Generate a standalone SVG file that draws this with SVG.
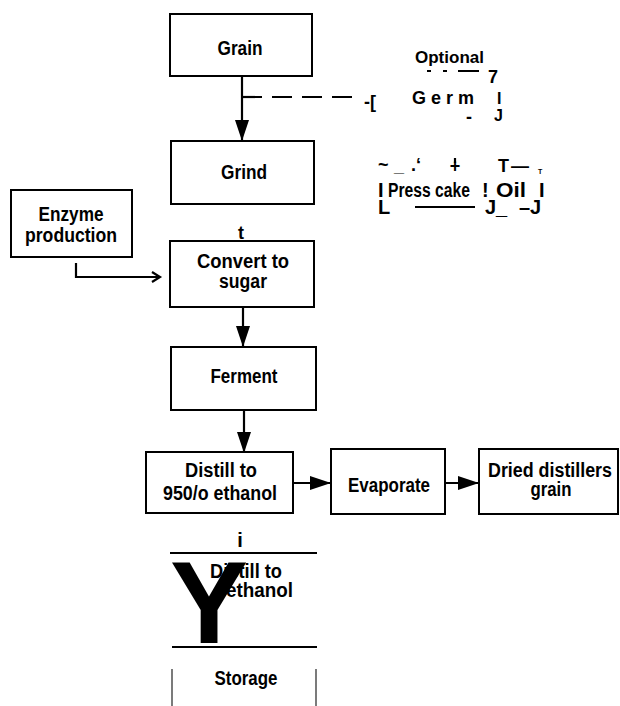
<svg xmlns="http://www.w3.org/2000/svg" width="620" height="706" viewBox="0 0 620 706">
<style>
.box{fill:#fff;stroke:#000;stroke-width:2}
.t{font-family:"Liberation Sans",Arial,sans-serif;font-weight:bold;font-size:18px;fill:#000}
.L{font-size:20px}
.c{text-anchor:middle}
.ln{stroke:#000;stroke-width:2.2;fill:none}
.thin{stroke:#444;stroke-width:1.4;fill:none}
</style>
<defs>
<marker id="ah" markerUnits="userSpaceOnUse" markerWidth="21" markerHeight="14" refX="21" refY="7" orient="auto">
<path d="M0,0 L21,7 L0,14 Z" fill="#000"/>
</marker>
</defs>
<rect width="620" height="706" fill="#fff"/>

<g id="connectors">
<path class="ln" d="M242,76 V141" marker-end="url(#ah)"/>
<path class="ln" d="M242,97 H360" stroke-dasharray="20 10"/>
<path class="ln" d="M76,263 V277 H160" stroke-width="1.8"/>
<path class="ln" d="M152,272 L160,277 L152,282" stroke-width="1.8"/>
<path class="ln" d="M243,307 V347" marker-end="url(#ah)"/>
<path class="ln" d="M244,410 V453" marker-end="url(#ah)"/>
<path class="ln" d="M293,483 H331" marker-end="url(#ah)"/>
<path class="ln" d="M445,483 H479" marker-end="url(#ah)"/>
</g>

<g id="grain">
<rect class="box" x="170" y="14" width="142" height="62"/>
<text class="t L c" x="240" y="55" textLength="45" lengthAdjust="spacingAndGlyphs">Grain</text>
</g>

<g id="grind">
<rect class="box" x="171" y="141" width="143" height="63"/>
<text class="t L c" x="244" y="179" textLength="46" lengthAdjust="spacingAndGlyphs">Grind</text>
</g>

<g id="germ-annotation">
<text class="t" x="415" y="63" style="font-size:17px">Optional</text>
<path class="ln" d="M427,71 H431 M443,71 H447 M458,71 H479"/>
<text class="t" x="488" y="83">7</text>
<text class="t" x="364" y="108">-[</text>
<text class="t" x="412" y="104" letter-spacing="5">Germ</text>
<text class="t" x="466" y="123">-</text>
<text class="t" x="497" y="104" style="font-size:16px">I</text>
<text class="t" x="494" y="121" style="font-size:16px">J</text>
</g>

<g id="press-cake-oil">
<text class="t" x="378" y="171">~</text>
<text class="t" x="394" y="172">_</text>
<text class="t" x="411" y="171">.‘</text>
<text class="t c" x="455" y="172">+</text>
<path class="ln" d="M455,158 V163"/>
<text class="t" x="498" y="172">T</text>
<text class="t" x="511" y="172">—</text>
<text class="t" x="538" y="174" style="font-size:7px">T</text>
<text class="t L" x="378" y="197">I</text>
<text class="t L" x="388" y="197" textLength="82" lengthAdjust="spacingAndGlyphs">Press cake</text>
<text class="t L" x="482" y="197">!</text>
<text class="t L" x="496" y="197" textLength="30" lengthAdjust="spacingAndGlyphs">Oil</text>
<text class="t L" x="539" y="197">I</text>
<text class="t L" x="378" y="214">L</text>
<path class="ln" d="M415,207 H475"/>
<text class="t L" x="485" y="214">J_</text>
<text class="t L" x="519" y="214">–J</text>
</g>

<g id="enzyme">
<rect class="box" x="11" y="190" width="121" height="67"/>
<text class="t L c" x="71" y="221" textLength="65" lengthAdjust="spacingAndGlyphs">Enzyme</text>
<text class="t L c" x="71" y="242" textLength="92" lengthAdjust="spacingAndGlyphs">production</text>
</g>

<g id="convert">
<text class="t c" x="241" y="239">t</text>
<rect class="box" x="170" y="241" width="144" height="66"/>
<text class="t L c" x="243" y="268" textLength="92" lengthAdjust="spacingAndGlyphs">Convert to</text>
<text class="t L c" x="243" y="288" textLength="48" lengthAdjust="spacingAndGlyphs">sugar</text>
</g>

<g id="ferment">
<rect class="box" x="171" y="347" width="145" height="63"/>
<text class="t L c" x="244" y="383" textLength="67" lengthAdjust="spacingAndGlyphs">Ferment</text>
</g>

<g id="distill95">
<rect class="box" x="146" y="452" width="147" height="61"/>
<text class="t L c" x="221" y="477" textLength="72" lengthAdjust="spacingAndGlyphs">Distill to</text>
<text class="t L c" x="220" y="500" textLength="114" lengthAdjust="spacingAndGlyphs">950/o ethanol</text>
</g>

<g id="evaporate">
<rect class="box" x="331" y="449" width="114" height="65"/>
<text class="t L c" x="389" y="492" textLength="82" lengthAdjust="spacingAndGlyphs">Evaporate</text>
</g>

<g id="dried">
<rect class="box" x="479" y="449" width="139" height="65"/>
<text class="t L c" x="550" y="477" textLength="124" lengthAdjust="spacingAndGlyphs">Dried distillers</text>
<text class="t L c" x="551" y="496" textLength="41" lengthAdjust="spacingAndGlyphs">grain</text>
</g>

<g id="distill-ethanol">
<text class="t L c" x="240" y="547">i</text>
<path class="ln" d="M170,553 H317 M172,647 H317"/>
<text class="t L" x="210" y="578" textLength="72" lengthAdjust="spacingAndGlyphs">Distill to</text>
<text class="t L" x="226" y="597" textLength="67" lengthAdjust="spacingAndGlyphs">ethanol</text>
<text class="t c" x="209" y="643" style="font-size:117px">Y</text>
</g>

<g id="storage">
<path class="thin" d="M172,669 V706 M316,669 V706"/>
<text class="t L c" x="246" y="685" textLength="63" lengthAdjust="spacingAndGlyphs">Storage</text>
</g>
</svg>
